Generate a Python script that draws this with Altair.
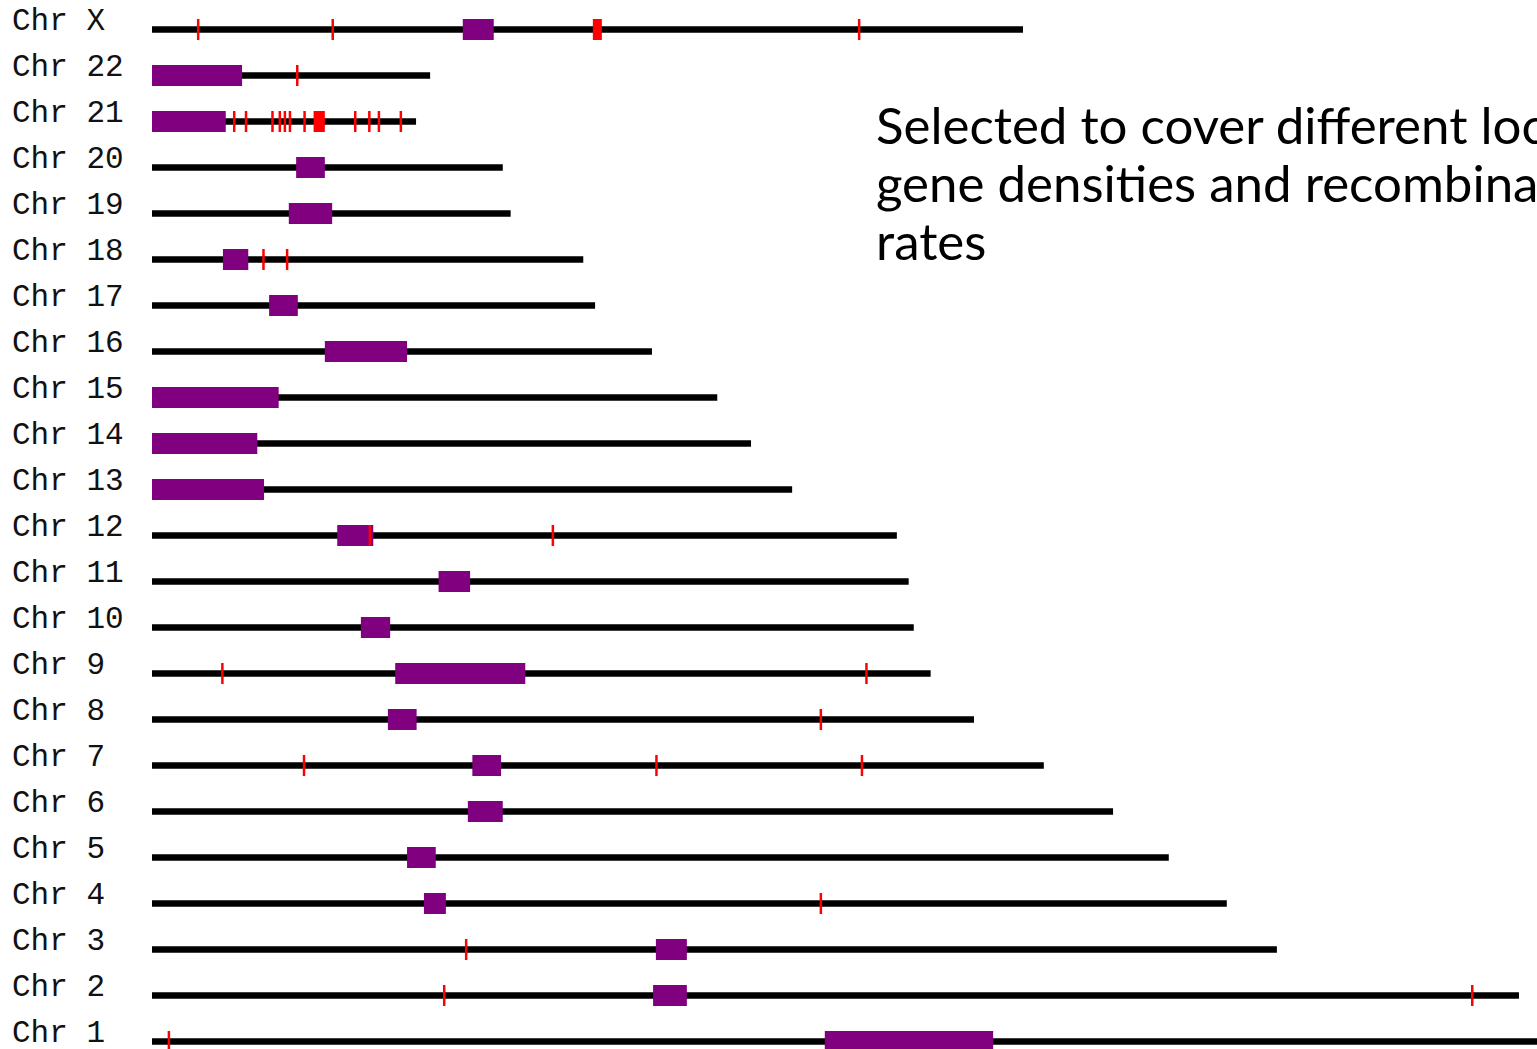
import altair as alt
import pandas as pd

# Chromosomes from top to bottom
chroms = ["Chr X", "Chr 22", "Chr 21", "Chr 20", "Chr 19", "Chr 18", "Chr 17",
          "Chr 16", "Chr 15", "Chr 14", "Chr 13", "Chr 12", "Chr 11", "Chr 10",
          "Chr 9", "Chr 8", "Chr 7", "Chr 6", "Chr 5", "Chr 4", "Chr 3", "Chr 2", "Chr 1"]
# Chromosome lengths (Mb)
lengths = [154.7, 49.4, 46.9, 62.3, 63.7, 76.6, 78.7, 88.8, 100.4, 106.4, 113.7,
           132.3, 134.4, 135.3, 138.3, 146.0, 158.4, 170.7, 180.6, 190.9, 199.8, 242.8, 249.0]
# Centromere / heterochromatin blocks (Mb)
cen_start = [55.2, 0.0, 0.0, 25.6, 24.3, 12.6, 20.8, 30.7, 0.0, 0.0, 0.0,
             32.9, 50.9, 37.1, 43.2, 41.9, 56.9, 56.1, 45.3, 48.3, 89.5, 89.0, 119.5]
cen_end = [60.7, 16.0, 13.1, 30.7, 32.0, 17.1, 25.9, 45.3, 22.5, 18.7, 19.9,
           39.3, 56.5, 42.3, 66.3, 47.0, 62.0, 62.3, 50.4, 52.2, 95.0, 95.0, 149.4]
# Selected loci (Mb)
marker_chrom = ["Chr X", "Chr X", "Chr X",
                "Chr 22",
                "Chr 21", "Chr 21", "Chr 21", "Chr 21", "Chr 21", "Chr 21", "Chr 21",
                "Chr 21", "Chr 21", "Chr 21", "Chr 21",
                "Chr 18", "Chr 18",
                "Chr 12", "Chr 12",
                "Chr 9", "Chr 9",
                "Chr 8",
                "Chr 7", "Chr 7", "Chr 7",
                "Chr 4",
                "Chr 3",
                "Chr 2", "Chr 2",
                "Chr 1"]
marker_pos = [8.2, 32.1, 125.6,
              25.8,
              14.6, 16.7, 21.4, 22.7, 23.6, 24.5, 27.1, 36.1, 38.6, 40.3, 44.2,
              19.8, 24.0,
              38.7, 71.2,
              12.5, 126.9,
              118.8,
              27.0, 89.6, 126.1,
              118.8,
              55.8,
              51.9, 234.5,
              3.0]
# Dense marker clusters (Mb)
cluster_chrom = ["Chr X", "Chr 21"]
cluster_start = [78.3, 28.7]
cluster_end = [79.9, 30.7]

note_lines = ["Selected to cover different locations,",
              "gene densities and recombination",
              "rates"]

row = {c: i for i, c in enumerate(chroms)}

chrom_df = pd.DataFrame({"chrom": chroms, "row": list(range(len(chroms))),
                         "start": [0.0] * len(chroms), "length": lengths,
                         "cs": cen_start, "ce": cen_end})
marker_df = pd.DataFrame({"chrom": marker_chrom, "pos": marker_pos,
                          "row": [row[c] for c in marker_chrom]})
cluster_df = pd.DataFrame({"chrom": cluster_chrom, "s": cluster_start, "e": cluster_end,
                           "row": [row[c] for c in cluster_chrom]})

xs = alt.Scale(domain=[0, 246], range=[152, 1537], nice=False, zero=False)
ys = alt.Scale(domain=[0, 22], range=[29.5, 1041.5], nice=False, zero=False)

base = alt.Chart(chrom_df)

lines = base.mark_rule(color="black", strokeWidth=6.5, strokeCap="butt").encode(
    x=alt.X("start:Q", scale=xs, axis=None),
    x2="length:Q",
    y=alt.Y("row:Q", scale=ys, axis=None),
)

cen = base.mark_rule(color="#800080", strokeWidth=21, strokeCap="butt").encode(
    x=alt.X("cs:Q", scale=xs, axis=None),
    x2="ce:Q",
    y=alt.Y("row:Q", scale=ys, axis=None),
)

clusters = alt.Chart(cluster_df).mark_rule(color="#ff0000", strokeWidth=21, strokeCap="butt").encode(
    x=alt.X("s:Q", scale=xs, axis=None),
    x2="e:Q",
    y=alt.Y("row:Q", scale=ys, axis=None),
)

ticks = alt.Chart(marker_df).mark_tick(color="#ff0000", orient="vertical", size=21,
                                       thickness=2.5, opacity=1).encode(
    x=alt.X("pos:Q", scale=xs, axis=None),
    y=alt.Y("row:Q", scale=ys, axis=None),
)

labels = base.mark_text(font="Liberation Mono", fontSize=31, color="#111111",
                        align="left", baseline="alphabetic", dy=0).encode(
    x=alt.value(12),
    y=alt.Y("row:Q", scale=ys, axis=None),
    text="chrom:N",
)

note = alt.Chart(pd.DataFrame({"k": [0]})).mark_text(
    text=note_lines, font="Lato", fontSize=51, color="black", align="left",
    baseline="alphabetic", lineHeight=58).encode(
    x=alt.value(876), y=alt.value(144))

chart = alt.layer(lines, cen, clusters, ticks, labels, note).properties(
    width=1537, height=1049, padding=0,
    autosize=alt.AutoSizeParams(type="none"),
).configure_view(stroke=None)

chart.save("out.html", embed_options={"renderer": "svg", "actions": False})
